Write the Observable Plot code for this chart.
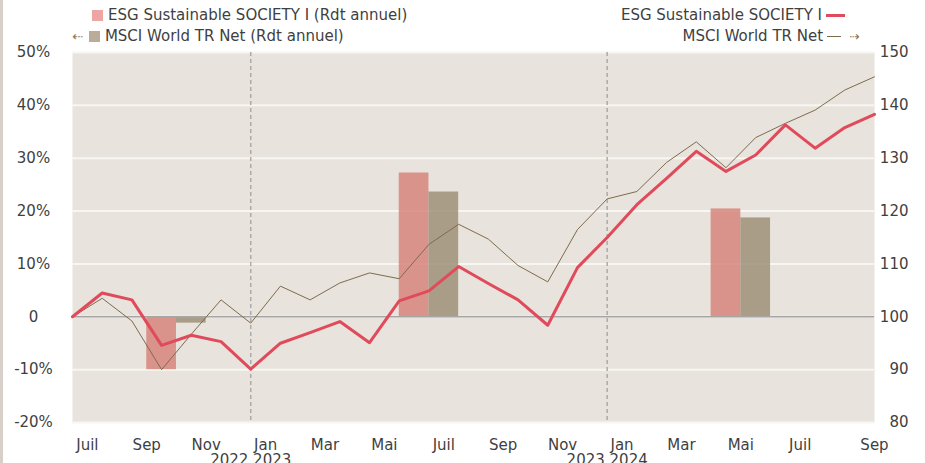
<!DOCTYPE html>
<html><head><meta charset="utf-8">
<script src="https://cdn.jsdelivr.net/npm/d3@7"></script>
<script src="https://cdn.jsdelivr.net/npm/@observablehq/plot@0.6"></script>
<style>
html,body{margin:0;padding:0;background:#fff;}
#wrap{position:relative;width:925px;height:463px;overflow:hidden;font-family:"DejaVu Sans",Verdana,sans-serif;}
#strip{position:absolute;left:0;top:0;width:3px;height:463px;background:#d8d0c8;}
.leg{position:absolute;font-size:15px;color:#3f3f3f;white-space:nowrap;line-height:17px;}
.sw{display:inline-block;width:11px;height:11px;vertical-align:-1px;margin-right:5px;}
.ln{display:inline-block;vertical-align:middle;margin-left:4px;}
.arr{color:#8a7a60;font-size:13px;}
#chart{position:absolute;left:0;top:0;}
</style>
</head><body>
<div id="wrap">
  <div id="chart"></div>
  <div id="strip"></div>
  <div class="leg" style="left:92px;top:7px;"><span class="sw" style="background:#eea6a4"></span>ESG Sustainable SOCIETY I (Rdt annuel)</div>
  <div class="leg" style="left:72px;top:28px;"><span class="arr" style="margin-right:6px">⇠</span><span class="sw" style="background:#b9ad9a"></span>MSCI World TR Net (Rdt annuel)</div>
  <div class="leg" style="right:80px;top:7px;">ESG Sustainable SOCIETY I<span class="ln" style="width:19px;height:3px;background:#e04a5a"></span></div>
  <div class="leg" style="right:65px;top:28px;">MSCI World TR Net<span class="ln" style="width:14px;height:1px;background:#7d6b4e"></span><span class="arr" style="margin-left:8px">⇢</span></div>
</div>
<script>
// Monthly points (end of month), Jun 2022 .. Sep 2024
const months = ["2022-06","2022-07","2022-08","2022-09","2022-10","2022-11","2022-12",
  "2023-01","2023-02","2023-03","2023-04","2023-05","2023-06","2023-07","2023-08","2023-09","2023-10","2023-11","2023-12",
  "2024-01","2024-02","2024-03","2024-04","2024-05","2024-06","2024-07","2024-08","2024-09"];
// Base-100 index values (right axis)
const esgIndex = [100, 104.5, 103.2, 94.6, 96.5, 95.3, 90.1, 95.0, 97.0, 99.1, 95.1, 103.0, 104.9, 109.5,
  106.3, 103.2, 98.4, 109.3, 115.0, 121.2, 126.2, 131.3, 127.5, 130.6, 136.3, 131.9, 135.8, 138.3];
const msciIndex = [100, 103.5, 99.2, 90.0, 96.7, 103.2, 98.8, 105.8, 103.2, 106.4, 108.3, 107.2, 113.7, 117.5,
  114.7, 109.7, 106.6, 116.5, 122.3, 123.7, 129.2, 133.1, 128.2, 133.9, 136.6, 139.1, 142.9, 145.4];
// Annual returns (left axis, %)
const barYears = ["2022", "2023", "2024"];
const esgAnnual = [-10.0, 27.2, 20.4];
const msciAnnual = [-1.2, 23.6, 18.7];
const esgBarSlot = [3, 11.5, 22];
const msciBarSlot = [4, 12.5, 23];
// Axis ticks
const yTicks = [-20, -10, 0, 10, 20, 30, 40, 50];
const monthTickPos = [0.5, 2.5, 4.5, 6.5, 8.5, 10.5, 12.5, 14.5, 16.5, 18.5, 20.5, 22.5, 24.5, 27];
const monthTickLabels = ["Juil","Sep","Nov","Jan","Mar","Mai","Juil","Sep","Nov","Jan","Mar","Mai","Juil","Sep"];
const yearBreakPos = [6, 18];
const yearBreakLabels = ["2022 2023", "2023 2024"];

const base = 100;
const esgLine = esgIndex.map((v, i) => ({i, v: v - base, m: months[i]}));
const msciLine = msciIndex.map((v, i) => ({i, v: v - base, m: months[i]}));
const esgBars = barYears.map((y, k) => ({y, v: esgAnnual[k], s: esgBarSlot[k]}));
const msciBars = barYears.map((y, k) => ({y, v: msciAnnual[k], s: msciBarSlot[k]}));
const tickMap = new Map(monthTickPos.map((p, k) => [p, monthTickLabels[k]]));

const chart = Plot.plot({
  width: 925, height: 463,
  marginLeft: 72, marginRight: 51, marginTop: 52, marginBottom: 41,
  x: {type: "linear", domain: [0, months.length - 1], label: null},
  y: {domain: [-20, 50], label: null},
  style: {fontFamily: "DejaVu Sans, Verdana, sans-serif", fontSize: "15px", color: "#3f3f3f", background: "transparent"},
  marks: [
    Plot.frame({fill: "#e8e3dc", stroke: null}),
    Plot.gridY(yTicks, {stroke: "#f8f6f2", strokeOpacity: 1, strokeWidth: 2}),
    Plot.ruleX(yearBreakPos, {stroke: "#ababab", strokeDasharray: "4,3", strokeWidth: 1.5}),
    Plot.rectY(esgBars, {x1: d => d.s - 0.5, x2: d => d.s + 0.5, y1: 0, y2: "v", fill: "#d6857c", fillOpacity: 0.85}),
    Plot.rectY(msciBars, {x1: d => d.s - 0.5, x2: d => d.s + 0.5, y1: 0, y2: "v", fill: "#9e9079", fillOpacity: 0.85}),
    Plot.ruleY([0], {stroke: "#a5a5a5", strokeWidth: 1.5}),
    Plot.line(msciLine, {x: "i", y: "v", stroke: "#7d6b4e", strokeWidth: 1}),
    Plot.line(esgLine, {x: "i", y: "v", stroke: "#e04a5a", strokeWidth: 3}),
    Plot.axisY(yTicks, {anchor: "left", tickSize: 0, tickPadding: 39, textAnchor: "middle",
      tickFormat: d => d === 0 ? "0" : d + "%"}),
    Plot.axisY(yTicks, {anchor: "right", tickSize: 0, tickPadding: 34, textAnchor: "end",
      tickFormat: d => String(d + base)}),
    Plot.axisX(monthTickPos, {anchor: "bottom", tickSize: 0, tickPadding: 17, tickFormat: d => tickMap.get(d)}),
    Plot.text(yearBreakLabels, {x: yearBreakPos, text: d => d, frameAnchor: "bottom", dy: 42, fill: "#3f3f3f"})
  ]
});
document.getElementById("chart").appendChild(chart);
</script>
</body></html>
